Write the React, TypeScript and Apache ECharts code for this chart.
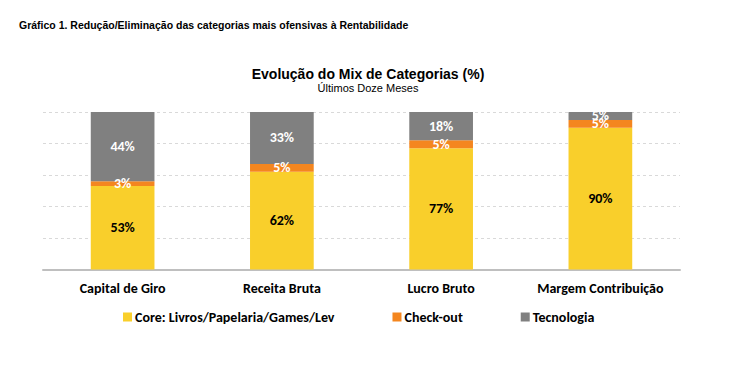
import React, { useEffect, useRef } from "react";
import * as echarts from "echarts";

const categories = ["Capital de Giro", "Receita Bruta", "Lucro Bruto", "Margem Contribuição"];
const coreValues = [53, 62, 77, 90];
const checkoutValues = [3, 5, 5, 5];
const tecnologiaValues = [44, 33, 18, 5];
const seriesNames = ["Core: Livros/Papelaria/Games/Lev", "Check-out", "Tecnologia"];
const colors = ["#F9CF2B", "#F4861F", "#808080"];

const FONT = "Carlito, Lato, 'Open Sans', sans-serif";
const ARIAL = "'Liberation Sans', Arial, sans-serif";

export default function App() {
  const ref = useRef<HTMLDivElement>(null);
  useEffect(() => {
    if (!ref.current) return;
    const chart = echarts.init(ref.current, null, { renderer: "svg" });
    const mk = (name: string, data: number[], color: string, labelColor: string) => ({
      name,
      type: "bar",
      stack: "total",
      data,
      barWidth: "40%",
      itemStyle: { color },
      label: {
        show: true,
        position: "inside",
        formatter: "{c}%",
        color: labelColor,
        fontFamily: FONT,
        fontWeight: "bold",
        fontSize: 14,
      },
    });
    chart.setOption({
      animation: false,
      backgroundColor: "#ffffff",
      title: [
        {
          text: "Gráfico 1. Redução/Eliminação das categorias mais ofensivas à Rentabilidade",
          left: 14,
          top: 14,
          textStyle: { fontFamily: ARIAL, fontSize: 10.5, fontWeight: "bold", color: "#000" },
        },
        {
          text: "Evolução do Mix de Categorias (%)",
          subtext: "Últimos Doze Meses",
          left: "center",
          top: 62,
          itemGap: 1,
          textStyle: { fontFamily: ARIAL, fontSize: 14, fontWeight: "bold", color: "#000" },
          subtextStyle: { fontFamily: ARIAL, fontSize: 11, color: "#000" },
        },
      ],
      legend: {
        left: 118,
        top: 305,
        itemGap: 58,
        itemWidth: 9,
        itemHeight: 9,
        icon: "rect",
        textStyle: { fontFamily: FONT, fontSize: 14, fontWeight: "bold", color: "#000", padding: [0, 0, 0, -2] },
        data: seriesNames,
      },
      grid: { left: 43, right: 56, top: 112, bottom: 103.5 },
      xAxis: {
        type: "category",
        data: categories,
        axisLine: { lineStyle: { color: "#BFBFBF", width: 2 } },
        axisTick: { show: false },
        axisLabel: { interval: 0, margin: 12, fontFamily: FONT, fontSize: 14, fontWeight: "bold", color: "#000" },
      },
      yAxis: {
        type: "value",
        min: 0,
        max: 100,
        interval: 20,
        axisLabel: { show: false },
        axisLine: { show: false },
        axisTick: { show: false },
        splitLine: { lineStyle: { color: "#D9D9D9", type: [3, 3] } },
      },
      series: [
        mk(seriesNames[0], coreValues, colors[0], "#000"),
        mk(seriesNames[1], checkoutValues, colors[1], "#fff"),
        mk(seriesNames[2], tecnologiaValues, colors[2], "#fff"),
      ],
    });
    return () => chart.dispose();
  }, []);
  return <div ref={ref} style={{ width: 736, height: 373, position: "absolute", left: 0, top: 0 }} />;
}
